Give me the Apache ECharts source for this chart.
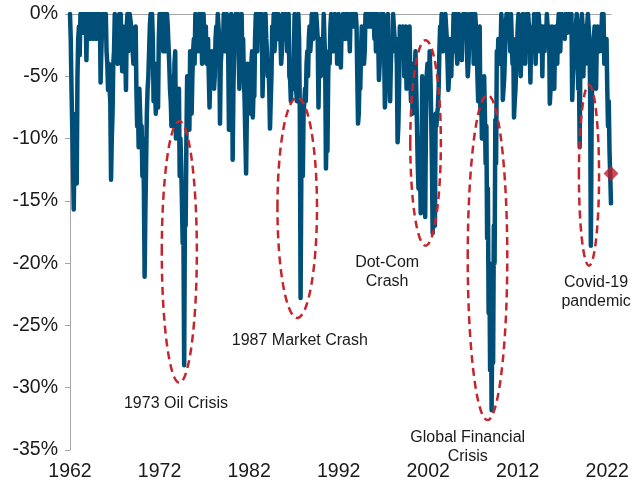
<!DOCTYPE html>
<html><head><meta charset="utf-8">
<script src="https://cdn.jsdelivr.net/npm/echarts@6/dist/echarts.min.js"></script>
<style>html,body{margin:0;padding:0;background:#fff}#c{width:634px;height:485px}</style>
</head><body><div id="c"></div>
<script>
const startYear = 1962;
const tickYears = [1962, 1972, 1982, 1992, 2002, 2012, 2022];

// monthly values (%)
const v1962to1971 = [
  0,-2,-6,-9,-12,-15.7,-11,-9,-8,-13.6,-5,-2,
  -1,-3.3,0,0,-1,0,-1.5,0,-1,0,-3.7,0,
  0,-0.5,0,-2,-1,0,-1,-2,0,-1,0,-2,
  0,-1,0,-2,0,-5.5,-3,-1,0,-1,0,-1,
  0,-3,-4,-6.1,-4,-6,-7,-13.3,-10,-8,-4,-3,
  0,0,-1,-2,-4,-2,0,-1,0,-3,-4.6,-1,
  -2,-4,-3,-6.1,-1,0,-3,-1,0,0,-1,-2,
  -2,-4,-3,-2,-1,-6.1,-9,-7,-10.7,-6,-8,-10,
  -9,-13,-10,-14,-21.1,-16,-12,-8,-6,-5,-3,-1,
  0,-1,0,-2,-7,-5,-6,-8,-4,-6,-7.5,-2
];
const v1972to1981 = [
  0,-1,0,-2,0,-3,-2,0,-3,-2,0,-1,
  -1,-4,-6,-7,-9,-8,-5,-9,-4,-3,-10,-9,
  -8,-7,-6,-13,-10,-12,-15,-18.4,-17.6,-28.2,-16,-17,
  -10,-5,-6,-8,-9.3,-3,-6,-8,-5,-3,-2,-4,
  0,0,-2,-1,-3,0,-1,-2,0,-4,-3,0,
  -2,-3,-1,-4,-3,-2,-5,-7.5,-5,-6,-3,-4,
  -5,-6,-5,-2,-1,-2,0,0,-2,-8.8,-4,-3,
  -2,-3,0,-2,-3,-1,0,-1,-3,-9.3,-4,-2,
  0,-2,-11.7,-6,-3,-1,0,0,-2,0,-3,-6,
  -3,-2,0,-4,-2,-5,-7,-10,-12.8,-8,-4,-5
];
const v1982to1991 = [
  -6,-7,-8,-4,-3,-8.3,-6,-6.6,-2,0,-2,-3,
  0,-2,0,-1,-2,0,-6.6,-4,-2,-3,0,-2,
  -3,-5,-4,-6,-9.2,-7,-5,-1,-2,0,-3,-2,
  0,0,-2,0,0,-1,-2,-4,-3,0,0,-1,
  -2,0,0,-3,-2,0,-5,-5.3,-7,-6.9,-4,-6,
  -3,0,0,-6,-7,-3,0,-2,-8,-22.8,-13,-10,
  -13,-8,-7,-6,-7,-4,-3,-5,-2,-1,-3,-2,
  0,0,-2,-1,0,-1,0,-1,-2,-7.5,-3,-2,
  -5,-4,-2,-3,0,-2,-4,-12.4,-9,-11,-5,-3,
  -4,-1,0,-1,-2,-3,-2,0,-2,-1,-4,-3
];
const v1992to2001 = [
  0,-2,-3,-4.3,-1,-2,0,-2,-1,-2,0,-1,
  0,-2,-1,-3,0,0,-1,0,-1,0,-1,0,
  -1,-5,-8.8,-8,-5,-6,-3,-1,-3,-2,-4,-3,
  0,0,-0.5,0,-1,0,-0.5,-1,0,-1,0,-0.5,
  -2,0,-3,-2,0,-2,-5.3,-4,-1,0,-1,-3,
  0,-3,-7.5,-6,-1,-2,0,-5,-3,-7,-4,-2,
  -3,0,-1,-2,-3,-2,-4,-10.3,-9,-6,-1,-2,
  -2,-3,-1,-2,-5,-4,-1,-6,-5,-4,-2,-1,
  -5,-7,-4,-8,-7,-4,-5,-3,-6,-9,-12,-14,
  -10,-12,-16,-14,-5,-7,-9,-11,-16.3,-9,-5,-4
];
const v2002to2011 = [
  -4,-6,-3,-5,-8,-12,-17.6,-11,-13,-17,-8,-9,
  -8,-7.5,-6,-3,-1,-2,0,-2,-3,-1,-2,0,
  -1,-2,-4,-6.1,-5,-2,-4,-5,-2,-3,0,-1,
  -3,0,-3,-4,-1,0,-0.5,-2,-1,-3.7,-1,0,
  -1,0,-1,0,-3,-5,-4,-2,0,-0.5,0,-1,
  0,-4,-3,0,-1,-2,-5,-7,-2,-1,-8,-6,
  -10,-6,-10,-5,-8,-12,-9,-18,-14,-24,-20,-28.6,
  -22,-31.8,-24,-28,-17,-20,-8.5,-12,-3,-4,-2,-3,
  -4,-3,0,-1,-6.9,-6,-5,-3,-1,0,-1,0,
  0,-1,-3,0,-2,-4,-2,-8.3,-7,-6,-4,-3
];
const v2012to2021 = [
  -1,0,-1,-2,-5,-3,-1,0,-1,-3,-4,-1,
  0,-1,0,-1,-2,-5.5,-2,-3,-1,-2,0,-1,
  -4,-2,0,-2,0,-1,-3,-2,-1,-5,-1,-2,
  -3,-1,-2,0,0,-2,-1,-7.2,-6,-2,-1,-3,
  -5,-6,-2,-1,-2,-4,-1,0,-2,-3,-1,0,
  0,-0.5,-1,-2,0,-1,0,-1.5,0,-0.5,0,-1,
  0,-6.9,-5,-4,-2,-3,-1,0,-1,-6,-4,-10.7,
  -3,-1,0,-1,-5,-2,-1,-4,-2,-1,0,-1,
  -2,-6,-18.6,-9,-4,-5,-2,-1,-5,-6,-2,-1,
  -1,-2,-3,-1,-2,0,-1.5,0,-4,-2,-3,-2
];
const v2022 = [-6,-9,-7,-11,-13,-15.2];
const latestValue = -12.8;

const values = [].concat(v1962to1971, v1972to1981, v1982to1991, v1992to2001, v2002to2011, v2012to2021, v2022);
const categories = values.map((_, i) => (startYear + Math.floor(i / 12)) + '-' + String(i % 12 + 1).padStart(2, '0'));
const lastCat = categories[categories.length - 1];

// annotations (in data coordinates)
const ellipses = [
  { x: ['1972-04', '1976-03'], y: [-8.6, -29.6] },
  { x: ['1985-03', '1989-08'], y: [-6.7, -24.4] },
  { x: ['2000-01', '2003-06'], y: [-2.1, -18.6] },
  { x: ['2006-06', '2010-11'], y: [-6.5, -32.6] },
  { x: ['2018-11', '2021-02'], y: [-5.7, -20.2] }
];
const labels = [
  { text: '1973 Oil Crisis', at: ['1973-11', -31.3] },
  { text: '1987 Market Crash', at: ['1987-09', -26.2] },
  { text: 'Dot-Com\nCrash', at: ['1997-06', -20.7] },
  { text: 'Global Financial\nCrisis', at: ['2006-06', -34.8] },
  { text: 'Covid-19\npandemic', at: ['2020-10', -22.3] }
];

const FONT = "'Liberation Sans', Arial, sans-serif";
const chart = echarts.init(document.getElementById('c'), null, { renderer: 'canvas' });
chart.setOption({
  animation: false,
  grid: { left: 70, right: 23, top: 14, bottom: 35, containLabel: false },
  xAxis: [
    {
      type: 'category', data: categories, boundaryGap: false, position: 'bottom',
      axisLine: { show: false, onZero: false }, axisTick: { show: false },
      axisLabel: {
        interval: (i, v) => v.endsWith('-01') && tickYears.includes(+v.slice(0, 4)),
        formatter: v => v.slice(0, 4), fontSize: 19.5, color: '#1a1a1a', fontFamily: FONT, margin: 12
      },
      splitLine: { show: false }
    },
    {
      type: 'category', data: categories, boundaryGap: false, position: 'top',
      axisLine: { show: true, onZero: false, lineStyle: { color: '#a6a6a6', width: 1 } },
      axisTick: { show: false }, axisLabel: { show: false }, splitLine: { show: false }
    }
  ],
  yAxis: {
    type: 'value', min: -35, max: 0, interval: 5,
    axisLine: { show: true, lineStyle: { color: '#a6a6a6', width: 1 } },
    axisTick: { show: true, length: 5, lineStyle: { color: '#a6a6a6' } },
    axisLabel: { formatter: '{value}%', fontSize: 19.5, color: '#1a1a1a', fontFamily: FONT, margin: 12 },
    splitLine: { show: false }
  },
  series: [
    {
      type: 'line', data: values, showSymbol: false, silent: true,
      lineStyle: { color: '#004f79', width: 4.5, cap: 'round', join: 'round' },
      z: 2
    },
    {
      type: 'scatter', data: [[lastCat, latestValue]], symbol: 'diamond', symbolSize: 15,
      itemStyle: { color: '#be1e2d' }, z: 5, silent: true
    }
  ]
});

const px = (c) => chart.convertToPixel({ xAxisIndex: 0, yAxisIndex: 0 }, c);
const graphics = [];
ellipses.forEach(e => {
  const a = px([e.x[0], e.y[0]]), b = px([e.x[1], e.y[1]]);
  graphics.push({
    type: 'ellipse', silent: true, z: 10,
    shape: { cx: (a[0] + b[0]) / 2, cy: (a[1] + b[1]) / 2, rx: Math.abs(b[0] - a[0]) / 2, ry: Math.abs(b[1] - a[1]) / 2 },
    style: { fill: null, stroke: '#c4262e', lineWidth: 2.5, lineDash: [8, 5] }
  });
});
labels.forEach(l => {
  const p = px(l.at);
  graphics.push({
    type: 'text', silent: true, z: 11, x: p[0], y: p[1],
    style: { text: l.text, fontSize: 16, fontFamily: FONT, fill: '#1a1a1a', align: 'center', verticalAlign: 'middle', lineHeight: 19 }
  });
});
chart.setOption({ graphic: graphics });
</script>
</body></html>
